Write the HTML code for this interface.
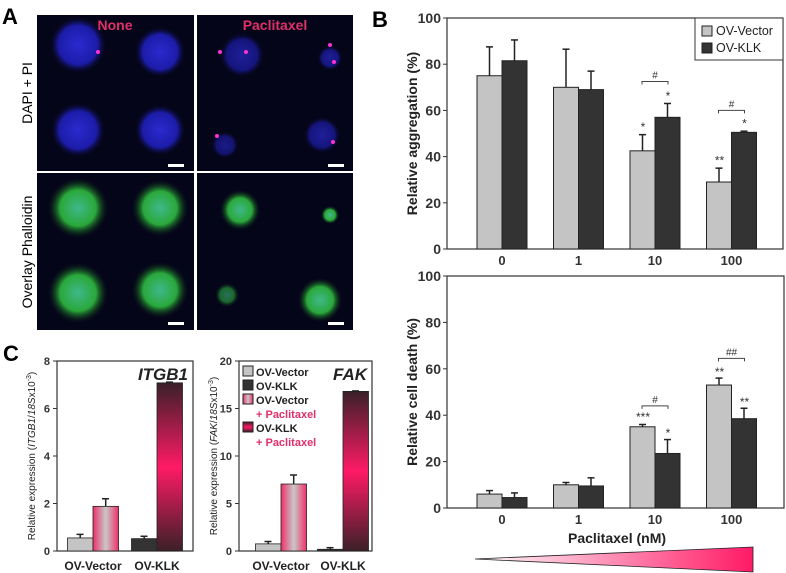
<!DOCTYPE html>
<html><head><meta charset="utf-8"><style>
html,body{margin:0;padding:0;background:#fff}
svg{display:block;font-family:"Liberation Sans",Arial,sans-serif}
</style></head><body>
<svg id="fig" width="786" height="573" viewBox="0 0 786 573" xmlns="http://www.w3.org/2000/svg">
<defs>
<radialGradient id="gBlue"><stop offset="0" stop-color="#2a2ad0"/><stop offset="0.7" stop-color="#1c1ca8"/><stop offset="1" stop-color="#0a0a3a" stop-opacity="0"/></radialGradient>
<radialGradient id="gGreen"><stop offset="0" stop-color="#3fb88a"/><stop offset="0.6" stop-color="#2aa83a"/><stop offset="1" stop-color="#0a2a10" stop-opacity="0"/></radialGradient>
<linearGradient id="gVecP" x1="0" x2="1" y1="0" y2="0"><stop offset="0" stop-color="#f0306a"/><stop offset="0.5" stop-color="#c8c8c8"/><stop offset="1" stop-color="#f0306a"/></linearGradient>
<linearGradient id="gKlkP" x1="0" x2="0" y1="0" y2="1"><stop offset="0" stop-color="#3a2028"/><stop offset="0.5" stop-color="#ff1a66"/><stop offset="1" stop-color="#3a2028"/></linearGradient>
<linearGradient id="gTri" x1="0" x2="1"><stop offset="0" stop-color="#ffffff"/><stop offset="1" stop-color="#ff1a66"/></linearGradient>
</defs>

<text x="2" y="24" font-size="22" font-weight="bold">A</text>
<text x="372" y="27" font-size="22" font-weight="bold">B</text>
<text x="3" y="361" font-size="22" font-weight="bold">C</text>
<g id="micro">
<rect x="37" y="15" width="157" height="156" fill="#05051a"/>
<rect x="197" y="15" width="156" height="156" fill="#05051a"/>
<rect x="37" y="173" width="157" height="157" fill="#05051a"/>
<rect x="197" y="173" width="156" height="157" fill="#05051a"/>
<circle cx="78" cy="45" r="28" fill="url(#gBlue)"/><circle cx="160" cy="52" r="25" fill="url(#gBlue)"/>
<circle cx="78" cy="130" r="27" fill="url(#gBlue)"/><circle cx="160" cy="130" r="25" fill="url(#gBlue)"/>
<circle cx="242" cy="55" r="22" fill="url(#gBlue)" opacity="0.7"/><circle cx="330" cy="58" r="12" fill="url(#gBlue)" opacity="0.7"/>
<circle cx="225" cy="145" r="13" fill="url(#gBlue)" opacity="0.6"/><circle cx="322" cy="135" r="18" fill="url(#gBlue)" opacity="0.7"/>
<circle cx="220" cy="52" r="2" fill="#ff30d0"/><circle cx="246" cy="52" r="2" fill="#ff30d0"/><circle cx="330" cy="45" r="2" fill="#ff30d0"/><circle cx="334" cy="62" r="2" fill="#ff30d0"/><circle cx="217" cy="136" r="2" fill="#ff30d0"/><circle cx="333" cy="142" r="2" fill="#ff30d0"/><circle cx="98" cy="52" r="2" fill="#ff30d0"/>
<circle cx="78" cy="208" r="30" fill="url(#gGreen)"/><circle cx="160" cy="208" r="28" fill="url(#gGreen)"/>
<circle cx="78" cy="293" r="30" fill="url(#gGreen)"/><circle cx="160" cy="290" r="28" fill="url(#gGreen)"/>
<circle cx="240" cy="210" r="20" fill="url(#gGreen)"/><circle cx="330" cy="215" r="9" fill="url(#gGreen)"/>
<circle cx="227" cy="295" r="12" fill="url(#gGreen)" opacity="0.6"/><circle cx="320" cy="300" r="22" fill="url(#gGreen)"/>
<text x="115" y="30" font-size="14" font-weight="bold" fill="#e0306a" text-anchor="middle">None</text>
<text x="275" y="30" font-size="14" font-weight="bold" fill="#e0306a" text-anchor="middle">Paclitaxel</text>
<rect x="168" y="164" width="16" height="3" fill="#fff"/><rect x="328" y="164" width="16" height="3" fill="#fff"/>
<rect x="168" y="322" width="16" height="3" fill="#fff"/><rect x="328" y="322" width="16" height="3" fill="#fff"/>
<text transform="translate(32,93) rotate(-90)" font-size="14" text-anchor="middle">DAPI + PI</text>
<text transform="translate(32,252) rotate(-90)" font-size="14" text-anchor="middle">Overlay Phalloidin</text>
</g>
<g id="charts"></g>
<polygon points="475,559 753,547 753,572" fill="url(#gTri)" stroke="#222" stroke-width="0.8"/>
</svg>
<script>
const NS="http://www.w3.org/2000/svg";
const doses=["0","1","10","100"];
const aggVec=[75,70,42.5,29];
const aggVecErr=[12.5,16.5,7,6];
const aggKlk=[81.5,69,57,50.5];
const aggKlkErr=[9,8,6,0.5];
const deathVec=[6,10,35,53];
const deathVecErr=[1.5,1,1,3];
const deathKlk=[4.5,9.5,23.5,38.5];
const deathKlkErr=[2,3.5,6,4.5];
const bTicks=[0,20,40,60,80,100];
const itgb1Vals=[0.55,1.88,0.52,7.08];
const itgb1Err=[0.15,0.32,0.1,0.03];
const fakVals=[0.75,7.05,0.18,16.8];
const fakErr=[0.25,0.95,0.17,0.05];
const itgb1Ticks=[0,2,4,6,8];
const fakTicks=[0,5,10,15,20];
const cCats=["OV-Vector","OV-KLK"];
const root=document.getElementById('charts');
function mk(tag,attrs,parent){const e=document.createElementNS(NS,tag);for(const k in attrs)e.setAttribute(k,attrs[k]);(parent||root).appendChild(e);return e;}
function txt(x,y,s,size,anchor,extra){const t=mk('text',Object.assign({x:x,y:y,'font-size':size,'text-anchor':anchor||'middle'},extra||{}));t.textContent=s;return t;}

function barChartB(name,L,R,T,B,vec,vecE,klk,klkE,ytitle,ann,xtitle){
  const g=mk('g',{});
  
  
  const ys=v=>B-(v/100)*(B-T);
  const gx=i=>L+55+i*76.5;
  mk('rect',{x:L,y:T,width:R-L,height:B-T,fill:'none',stroke:'#333','stroke-width':1.2},g);
  bTicks.forEach(t=>{mk('line',{x1:L-4,x2:L,y1:ys(t),y2:ys(t),stroke:'#333'},g);
    const tl=txt(L-6,ys(t)+5,String(t),14,'end',{'font-weight':'bold',fill:'#333'});g.appendChild(tl);
    });
  doses.forEach((d,i)=>{
    const c=gx(i);
    [[vec,vecE,'#c4c4c4',c-25],[klk,klkE,'#333',c]].forEach(([arr,err,col,x])=>{
      const v=arr[i];
      const r=mk('rect',{x:x,y:ys(v),width:25,height:ys(0)-ys(v),fill:col,stroke:'#222','stroke-width':1},g);
      
      
      mk('line',{x1:x+12.5,x2:x+12.5,y1:ys(v),y2:ys(v+err[i]),stroke:'#222','stroke-width':1.5},g);
      mk('line',{x1:x+9,x2:x+16,y1:ys(v+err[i]),y2:ys(v+err[i]),stroke:'#222','stroke-width':1.5},g);
    });
    const xl=txt(c,B+16,d,13,'middle',{'font-weight':'bold',fill:'#333'});g.appendChild(xl);
    
  });
  ann.forEach(a=>{
    const c=gx(a.i);
    if(a.vs){txt(c-12,ys(a.vs),a.vs_t,12,'middle',{fill:'#333'});}
    if(a.ks){txt(c+13,ys(a.ks),a.ks_t,12,'middle',{fill:'#333'});}
    const yb=ys(a.br);
    mk('path',{d:`M${c-13},${yb+3}V${yb}H${c+13}V${yb+3}`,fill:'none',stroke:'#444'},g);
    txt(c,yb-3,a.h,10,'middle',{fill:'#333'});
  });
  const yt=txt(0,0,ytitle,14,'middle',{'font-weight':'bold',fill:'#222',transform:`translate(${L-30},${(T+B)/2}) rotate(-90)`});
  
  if(xtitle){const xt=txt(617,543,xtitle,14,'middle',{'font-weight':'bold',fill:'#222'});
    }
  return g;
}
barChartB('aggregation-chart',447,783,18,249,aggVec,aggVecErr,aggKlk,aggKlkErr,'Relative aggregation (%)',
 [{i:2,vs:51,vs_t:'*',ks:64.5,ks_t:'*',br:72.5,h:'#'},{i:3,vs:36.5,vs_t:'**',ks:52.5,ks_t:'*',br:60,h:'#'}]);
barChartB('cell-death-chart',447,784,276,508,deathVec,deathVecErr,deathKlk,deathKlkErr,'Relative cell death (%)',
 [{i:2,vs:37.5,vs_t:'***',ks:30.5,ks_t:'*',br:44,h:'#'},{i:3,vs:57,vs_t:'**',ks:44,ks_t:'**',br:64.5,h:'##'}],'Paclitaxel (nM)');
const lg=mk('g',{});


mk('rect',{x:695,y:18,width:88,height:42,fill:'#fff',stroke:'#333'},lg);
mk('rect',{x:702,y:26,width:10,height:10,fill:'#c4c4c4',stroke:'#222'},lg);
mk('rect',{x:702,y:43,width:10,height:10,fill:'#333',stroke:'#222'},lg);
lg.appendChild(txt(716,35,'OV-Vector',12.5,'start',{fill:'#222'}));
lg.appendChild(txt(716,52,'OV-KLK',12.5,'start',{fill:'#222'}));

function barChartC(name,L,R,T,B,vals,err,ticks,title,ytitle,legend,c1,c2){
  const g=mk('g',{});
  
  
  const max=ticks[ticks.length-1];
  const ys=v=>B-(v/max)*(B-T);
  mk('rect',{x:L,y:T,width:R-L,height:B-T,fill:'none',stroke:'#333','stroke-width':1.2},g);
  ticks.forEach(t=>{mk('line',{x1:L-4,x2:L,y1:ys(t),y2:ys(t),stroke:'#333'},g);
    const tl=txt(L-7,ys(t)+4,String(t),11,'end',{'font-weight':'bold',fill:'#333'});});
  const cx=[L+c1,L+c2];
  const fills=['#c4c4c4','url(#gVecP)','#333','url(#gKlkP)'];
  vals.forEach((v,i)=>{
    const grp=Math.floor(i/2), x=cx[grp]+(i%2==0?-25.5:0);
    const r=mk('rect',{x:x,y:ys(v),width:25.5,height:ys(0)-ys(v),fill:fills[i],stroke:'#222','stroke-width':0.8},g);
    
    
    mk('line',{x1:x+12.7,x2:x+12.7,y1:ys(v),y2:ys(v+err[i]),stroke:'#222','stroke-width':1.5},g);
    mk('line',{x1:x+9,x2:x+16,y1:ys(v+err[i]),y2:ys(v+err[i]),stroke:'#222','stroke-width':1.5},g);
  });
  cCats.forEach((c,i)=>{const t=txt(cx[i],B+19,c,12,'middle',{'font-weight':'bold',fill:'#222'});});
  txt(R-5,T+19,title,17,'end',{'font-weight':'bold','font-style':'italic',fill:'#222'});
  const yt=txt(0,0,'',10,'middle',{fill:'#222',transform:`translate(${L-22},${(T+B)/2}) rotate(-90)`});
  
  yt.innerHTML='Relative expression (<tspan font-style="italic">'+ytitle+'</tspan>/<tspan font-style="italic">18S</tspan>x10<tspan font-size="7" dy="-4">-3</tspan><tspan dy="4">)</tspan>';
  if(legend){
    const items=[['#c4c4c4','OV-Vector',null],['#333','OV-KLK',null],['url(#gVecP)','OV-Vector','+ Paclitaxel'],['url(#gKlkP)','OV-KLK','+ Paclitaxel']];
    let y=T+5;
    items.forEach(it=>{mk('rect',{x:L+4,y:y,width:10,height:10,fill:it[0],stroke:'#222'},g);
      txt(L+17,y+10,it[1],11,'start',{'font-weight':'bold',fill:'#222'});y+=14;
      if(it[2]){txt(L+17,y+10,it[2],11,'start',{'font-weight':'bold',fill:'#e0306a'});y+=14;}});
  }
}
barChartC('itgb1-chart',57,193,361,551,itgb1Vals,itgb1Err,itgb1Ticks,'ITGB1','ITGB1',false,36,100);
barChartC('fak-chart',239,372,361,551,fakVals,fakErr,fakTicks,'FAK','FAK',true,42,104);
</script>
</body></html>
